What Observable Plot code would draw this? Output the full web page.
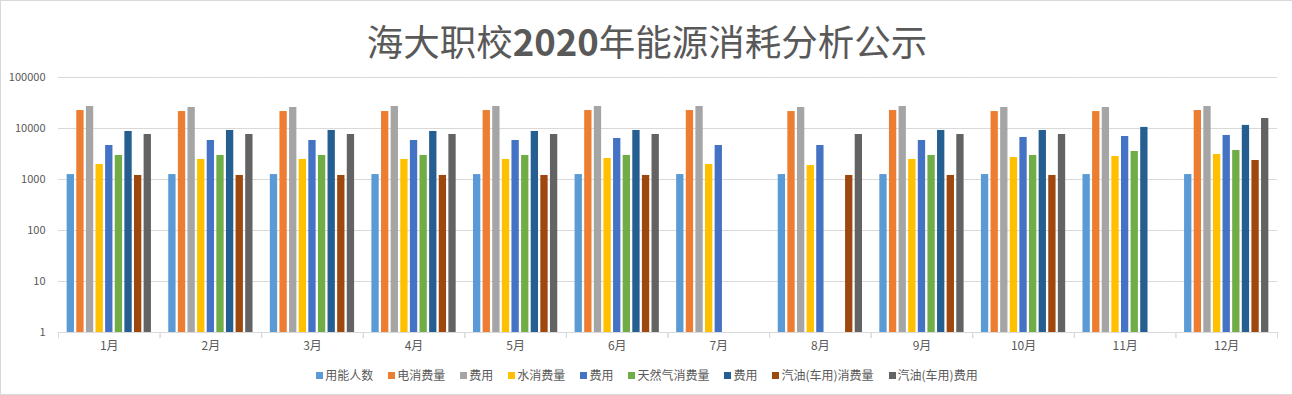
<!DOCTYPE html>
<html>
<head>
<meta charset="utf-8">
<script src="https://cdn.jsdelivr.net/npm/d3@7"></script>
<script src="https://cdn.jsdelivr.net/npm/@observablehq/plot@0.6"></script>
<style>
  html, body { margin: 0; padding: 0; background: #fff; }
  #wrap { position: relative; width: 1292px; height: 395px; box-sizing: border-box;
          border-left: 1px solid #d9d9d9; border-top: 1px solid #d9d9d9; border-bottom: 1px solid #d9d9d9;
          font-family: "Noto Sans CJK SC", "Noto Sans", sans-serif; color: #595959; overflow: hidden; }
  #title { position: absolute; left: 0; top: 21px; width: 1292px; text-align: center;
           font-size: 36.5px; line-height: 38px; color: #595959; }
  #title b { font-weight: 700; }
  #chart { position: absolute; left: -1px; top: 64px; }
  #legend { position: absolute; left: 0; top: 366px; width: 1292px; display: flex; justify-content: center;
            gap: 15px; font-size: 12px; line-height: 16px; color: #595959; }
  #legend .item { display: flex; align-items: center; }
  #legend .sw { width: 7px; height: 7px; margin-right: 2px; }
</style>
</head>
<body>
<div id="wrap">
  <div id="title">海大职校<b>2020</b>年能源消耗分析公示</div>
  <div id="chart"></div>
  <div id="legend"></div>
</div>
<script>
const months = ["1月","2月","3月","4月","5月","6月","7月","8月","9月","10月","11月","12月"];
const seriesKeys = ["用能人数","电消费量","电费用","水消费量","水费用","天然气消费量","天然气费用","汽油(车用)消费量","汽油(车用)费用"];
const seriesLabels = ["用能人数","电消费量","费用","水消费量","费用","天然气消费量","费用","汽油(车用)消费量","汽油(车用)费用"];
const colors = ["#5B9BD5","#ED7D31","#A5A5A5","#FFC000","#4472C4","#70AD47","#255E91","#9E480E","#636363"];
const yTicks = [1, 10, 100, 1000, 10000, 100000];

const people    = [1250,1250,1250,1250,1250,1250,1250,1250,1250,1250,1250,1250];
const elec      = [22500,21500,21500,21500,22500,22500,22500,21500,22500,21500,21500,22500];
const elecCost  = [27000,25800,25800,27000,27000,27000,27000,25800,27000,25800,25800,27000];
const water     = [1970,2470,2470,2470,2470,2580,1970,1880,2470,2700,2820,3090];
const waterCost = [4640,5820,5820,5820,5820,6370,4640,4640,5820,6670,6970,7300];
const gas       = [2960,2960,2960,2960,2960,2960,null,null,2960,2960,3540,3710];
const gasCost   = [8740,9150,9150,8740,8740,9150,null,null,9150,9150,10500,11500];
const fuel      = [1200,1200,1200,1200,1200,1200,null,1200,1200,1200,null,2360];
const fuelCost  = [7630,7630,7630,7630,7630,7630,null,7630,7630,7630,null,15700];

const seriesValues = [people, elec, elecCost, water, waterCost, gas, gasCost, fuel, fuelCost];

const data = [];
months.forEach((m, i) => {
  seriesKeys.forEach((k, j) => {
    const v = seriesValues[j][i];
    if (v != null) data.push({month: m, key: k, value: v});
  });
});

const W = 1292, H = 296, mt = 12, mb = 29, ml = 58, mr = 15;
const font = '"Noto Sans CJK SC", "Noto Sans", sans-serif';

const chart = Plot.plot({
  width: W, height: H,
  marginLeft: ml, marginRight: mr, marginTop: mt, marginBottom: mb,
  style: {fontFamily: font, fontSize: "12px", color: "#595959", background: "transparent"},
  fx: {domain: months, padding: 0, round: false, label: null},
  x: {domain: seriesKeys, axis: null, paddingInner: 0.24, paddingOuter: 0.9, round: false},
  y: {type: "log", domain: [1, 100000], label: null},
  color: {domain: seriesKeys, range: colors},
  marks: [
    Plot.ruleY(yTicks, {stroke: "#d9d9d9", strokeWidth: 1}),
    Plot.frame({anchor: "left", stroke: "#d9d9d9", insetTop: H - mt - mb, insetBottom: -5}),
    Plot.frame({anchor: "right", stroke: "#d9d9d9", insetTop: H - mt - mb, insetBottom: -5}),
    Plot.barY(data, {fx: "month", x: "key", y1: 1, y2: "value", fill: "key"}),
    Plot.axisY({ticks: yTicks, tickFormat: d => String(d), tickSize: 0, tickPadding: 13, label: null, fontSize: 11}),
    Plot.axisFx({anchor: "bottom", tickSize: 0, tickPadding: 9, label: null, fontSize: 12})
  ]
});
document.getElementById("chart").appendChild(chart);

const legend = document.getElementById("legend");
seriesLabels.forEach((lab, j) => {
  const it = document.createElement("div");
  it.className = "item";
  const sw = document.createElement("span");
  sw.className = "sw";
  sw.style.background = colors[j];
  const tx = document.createElement("span");
  tx.textContent = lab;
  it.appendChild(sw); it.appendChild(tx);
  legend.appendChild(it);
});
</script>
</body>
</html>
